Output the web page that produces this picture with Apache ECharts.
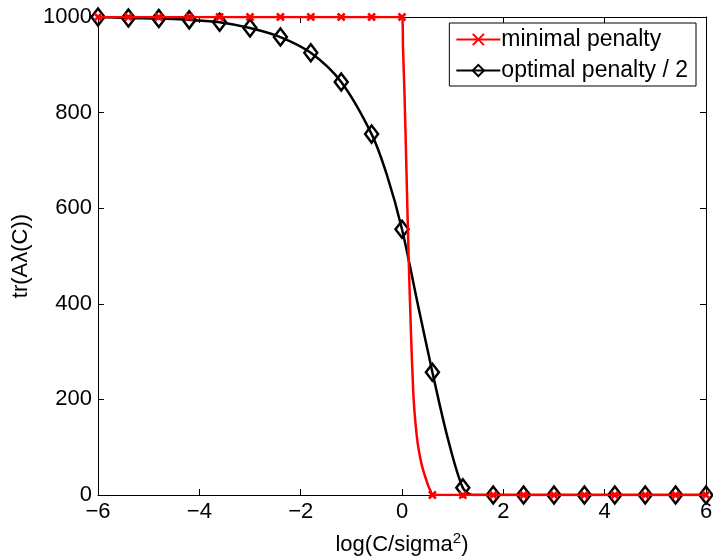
<!DOCTYPE html>
<html>
<head>
<meta charset="utf-8">
<script src="https://cdn.jsdelivr.net/npm/echarts@6/dist/echarts.min.js"></script>
<style>html,body{margin:0;padding:0;background:#fff}#c{width:713px;height:558px}</style>
</head>
<body>
<div id="c"></div>
<script>
// Marker positions (x) shared by both series
const markerX = [-6, -5.4, -4.8, -4.2, -3.6, -3.0, -2.4, -1.8, -1.2, -0.6, 0, 0.6, 1.2, 1.8, 2.4, 3.0, 3.6, 4.2, 4.8, 5.4, 6];
// "minimal penalty" values at markers
const minimalAtMarkers = [1000, 1000, 1000, 1000, 1000, 1000, 1000, 1000, 1000, 1000, 1000, 0, 0, 0, 0, 0, 0, 0, 0, 0, 0];
// "minimal penalty" curve between markers (no symbol)
const minimalCurveX = [0.02, 0.05, 0.09, 0.13, 0.18, 0.22, 0.25, 0.28, 0.31, 0.35, 0.39, 0.44, 0.49, 0.53, 0.57];
const minimalCurveY = [935, 837, 670, 500, 330, 220, 170, 135, 108, 83, 63, 44, 28, 16, 7];
// "optimal penalty / 2" values at markers
const optimalAtMarkers = [1000, 998, 997, 994, 989, 977, 958, 925, 864, 755, 556, 257, 15, 0, 0, 0, 0, 0, 0, 0, 0];
// extra points of the optimal curve (no symbol)
const optimalCurveX = [-0.3, 0.3, 0.9, 1.4];
const optimalCurveY = [670, 405, 120, 0];

const xTicks = {min: -6, max: 6, interval: 2};
const yTicks = {min: 0, max: 1000, interval: 200};

const FONT = 'Liberation Sans, Arial, Helvetica, sans-serif';

function buildData(mx, my, cx, cy) {
  const pts = [];
  mx.forEach((x, i) => pts.push({value: [x, my[i]]}));
  cx.forEach((x, i) => pts.push({value: [x, cy[i]], symbol: 'none'}));
  pts.sort((a, b) => a.value[0] - b.value[0]);
  return pts;
}

const xMark = 'path://M0,0L10,10M10,0L0,10';

const chart = echarts.init(document.getElementById('c'), null, {renderer: 'canvas'});
const axisCommon = {
  axisLine: {show: true, onZero: false, lineStyle: {color: '#000', width: 1}},
  axisTick: {show: true, inside: true, length: 6, lineStyle: {color: '#000', width: 1}},
  splitLine: {show: false}
};
chart.setOption({
  animation: false,
  backgroundColor: '#fff',
  textStyle: {fontFamily: FONT},
  grid: {left: 98, right: 7, top: 17, bottom: 63, containLabel: false, outerBoundsMode: 'none'},
  legend: {
    orient: 'vertical',
    right: 17,
    top: 23,
    backgroundColor: '#fff',
    borderColor: '#000',
    borderWidth: 1,
    borderRadius: 0,
    padding: [5, 8, 4, 6],
    itemGap: 8,
    itemWidth: 44,
    itemHeight: 14,
    textStyle: {fontSize: 23, color: '#000', fontFamily: FONT, padding: [0, 0, 0, -4]},
    data: ['minimal penalty', 'optimal penalty / 2']
  },
  xAxis: [
    Object.assign({
      type: 'value', position: 'bottom',
      min: xTicks.min, max: xTicks.max, interval: xTicks.interval,
      axisLabel: {show: true, color: '#000', fontSize: 22, fontFamily: FONT, margin: 6,
        formatter: v => (v < 0 ? '\u2212' + Math.abs(v) : String(v))},
      name: 'log(C/sigma{sup|2})',
      nameLocation: 'middle',
      nameGap: 36,
      nameTextStyle: {color: '#000', fontSize: 22, fontFamily: FONT,
        rich: {sup: {fontSize: 15, color: '#000', fontFamily: FONT, padding: [0, 0, 12, 0]}}}
    }, axisCommon),
    Object.assign({
      type: 'value', position: 'top',
      min: xTicks.min, max: xTicks.max, interval: xTicks.interval,
      axisLabel: {show: false}
    }, axisCommon)
  ],
  yAxis: [
    Object.assign({
      type: 'value', position: 'left',
      min: yTicks.min, max: yTicks.max, interval: yTicks.interval,
      axisLabel: {show: true, color: '#000', fontSize: 22, fontFamily: FONT, margin: 6,
        formatter: v => String(v)},
      name: 'tr(A\u03bb(C))',
      nameLocation: 'middle',
      nameGap: 64,
      nameTextStyle: {color: '#000', fontSize: 22, fontFamily: FONT}
    }, axisCommon),
    Object.assign({
      type: 'value', position: 'right',
      min: yTicks.min, max: yTicks.max, interval: yTicks.interval,
      axisLabel: {show: false}
    }, axisCommon)
  ],
  series: [
    {
      name: 'optimal penalty / 2',
      type: 'line',
      xAxisIndex: 0, yAxisIndex: 0,
      data: buildData(markerX, optimalAtMarkers, optimalCurveX, optimalCurveY),
      smooth: 0.3,
      symbol: 'diamond',
      symbolSize: [13, 17],
      showAllSymbol: true,
      lineStyle: {color: '#000', width: 2.5},
      itemStyle: {color: 'rgba(255,255,255,0)', borderColor: '#000', borderWidth: 2.5},
      z: 2
    },
    {
      name: 'minimal penalty',
      type: 'line',
      xAxisIndex: 0, yAxisIndex: 0,
      data: buildData(markerX, minimalAtMarkers, minimalCurveX, minimalCurveY),
      smooth: 0.2,
      symbol: xMark,
      symbolSize: 7,
      showAllSymbol: true,
      lineStyle: {color: '#ff0000', width: 2.5},
      itemStyle: {color: '#ff0000', borderColor: '#ff0000', borderWidth: 2.5},
      z: 3
    }
  ]
});
</script>
</body>
</html>
